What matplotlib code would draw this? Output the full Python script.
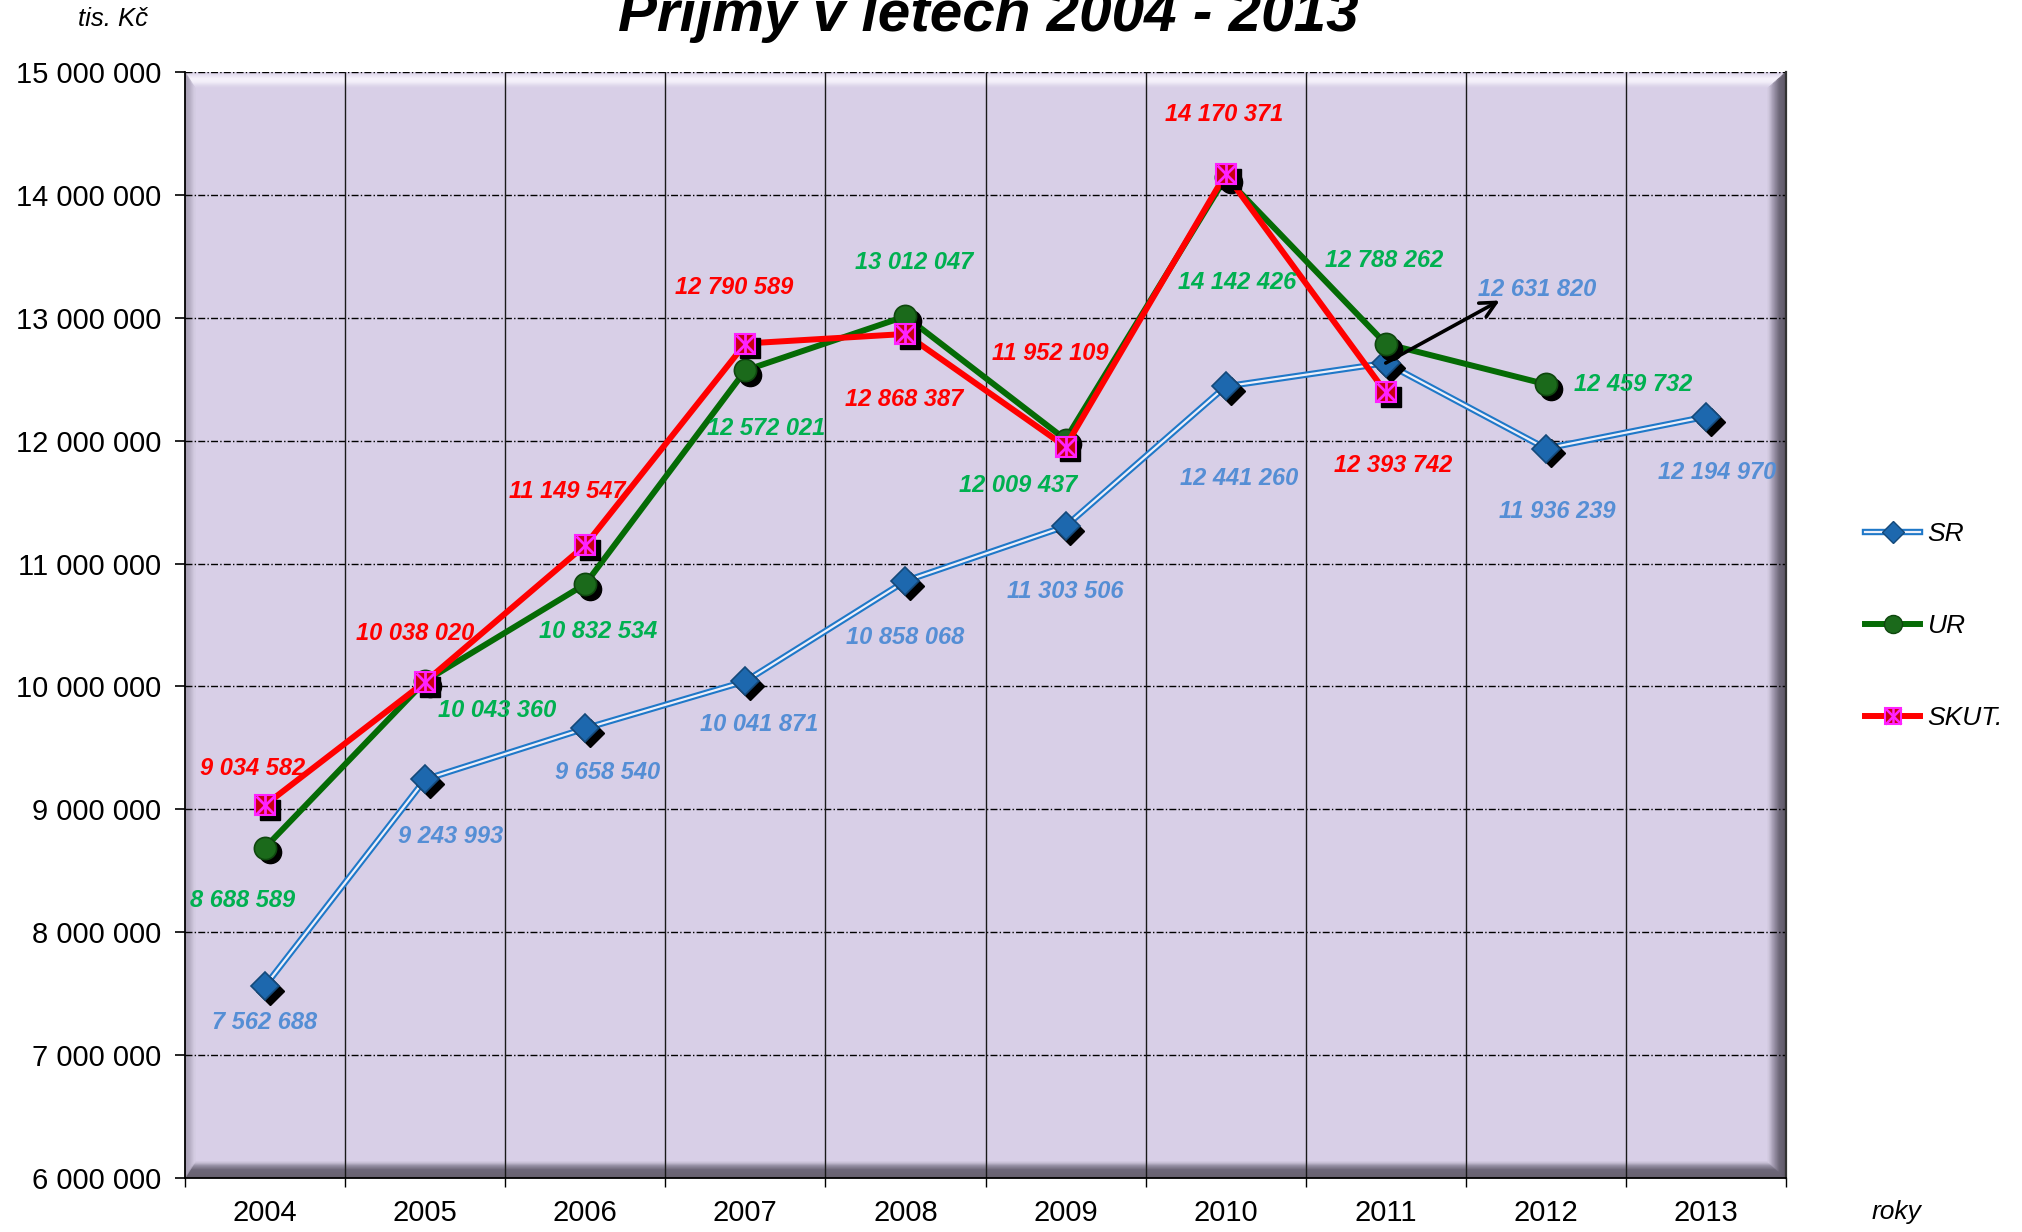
import numpy as np
import matplotlib
matplotlib.use('Agg')
import matplotlib.pyplot as plt
from matplotlib import transforms
from matplotlib.patches import Polygon
from matplotlib.lines import Line2D
from matplotlib.colors import LinearSegmentedColormap
from matplotlib.legend_handler import HandlerTuple

plt.rcParams['font.family'] = ['Liberation Sans', 'DejaVu Sans']

# ---------------- data ----------------
years = ['2004', '2005', '2006', '2007', '2008', '2009', '2010', '2011', '2012', '2013']
sr = [7562688, 9243993, 9658540, 10041871, 10858068, 11303506, 12441260, 12631820, 11936239, 12194970]
ur = [8688589, 10043360, 10832534, 12572021, 13012047, 12009437, 14142426, 12788262, 12459732]
skut = [9034582, 10038020, 11149547, 12790589, 12868387, 11952109, 14170371, 12393742]
y_ticks = [6000000, 7000000, 8000000, 9000000, 10000000, 11000000, 12000000, 13000000, 14000000, 15000000]
series_names = ['SR', 'UR', 'SKUT.']

# label offsets (points)
sr_off = [(0, -26), (18, -41), (16, -32), (10, -31), (0, -41), (0, -47), (10, -66), (109, 53), (8, -45), (8, -40)]
ur_off = [(-16, -38), (52, -21), (9, -34), (15, -42), (6, 39), (-34, -33), (8, -76), (-1, 60), (63, 0)]
sk_off = [(-9, 26), (-7, 35), (-13, 39), (-8, 40), (-1, -47), (-11, 67), (-1, 43), (5, -53)]

C_SR, C_SR_IN, C_SR_M = '#1F78C8', '#EEF0FA', '#1D68AE'
C_UR, C_UR_M = '#056B05', '#1B6A1B'
C_SK, C_SK_M, C_MAG = '#FF0000', '#C8000E', '#FF22FF'
LBL_SR, LBL_UR, LBL_SK = '#558ED5', '#00B050', '#FF0000'


def fmt(v):
    return f"{v:,}".replace(",", " ")


fig = plt.figure(figsize=(20.22, 12.32), dpi=100)
W_PX, H_PX = 2022, 1232
ax = fig.add_axes([185 / W_PX, 1 - 1178 / H_PX, (1786 - 185) / W_PX, (1178 - 72) / H_PX])
ax.set_facecolor('#D8CFE7')


# ---------------- bevelled plot area ----------------
def bevel(ax, L, R, B, T, cmaps, n=30):
    bb = ax.get_position()
    W = bb.width * W_PX
    H = bb.height * H_PX
    ts = np.linspace(0, 1, n + 1)
    for i in range(n):
        ta, tb = ts[i], ts[i + 1]
        tm = 0.5 * (ta + tb)
        x0a, x1a, y0a, y1a = L * ta / W, 1 - R * ta / W, B * ta / H, 1 - T * ta / H
        x0b, x1b, y0b, y1b = L * tb / W, 1 - R * tb / W, B * tb / H, 1 - T * tb / H
        polys = {
            'bottom': [(x0a, y0a), (x1a, y0a), (x1b, y0b), (x0b, y0b)],
            'top': [(x0a, y1a), (x1a, y1a), (x1b, y1b), (x0b, y1b)],
            'left': [(x0a, y0a), (x0a, y1a), (x0b, y1b), (x0b, y0b)],
            'right': [(x1a, y0a), (x1a, y1a), (x1b, y1b), (x1b, y0b)],
        }
        for side, pts in polys.items():
            c = cmaps[side](tm)
            ax.add_patch(Polygon(pts, closed=True, transform=ax.transAxes, facecolor=c,
                                 edgecolor=c, lw=0.6, zorder=0.5))


cmaps = {
    'bottom': LinearSegmentedColormap.from_list('b', [(0, '#67616F'), (0.55, '#6E6879'), (0.8, '#9690A4'), (1, '#CCC4DA')]),
    'right': LinearSegmentedColormap.from_list('r', [(0, '#5C5666'), (0.4, '#6E6879'), (0.75, '#A49CB2'), (1, '#D2CAE0')]),
    'left': LinearSegmentedColormap.from_list('l', [(0, '#A49CB0'), (0.5, '#B4ACC2'), (1, '#D4CCE2')]),
    'top': LinearSegmentedColormap.from_list('t', [(0, '#D8CFE7'), (0.45, '#F7F3FC'), (0.65, '#F2EEF9'), (1, '#D8CFE7')]),
}
bevel(ax, 10, 18, 16, 16, cmaps)

# ---------------- grid ----------------
for v in y_ticks[1:]:
    ax.axhline(v, color='black', lw=1.0, dashes=(5, 1.6, 1, 1.6), zorder=1.5)
for b in np.arange(0.5, len(years) - 1, 1.0):
    ax.axvline(b, color='#1a1a1a', lw=1.0, zorder=1.5)

# ---------------- series ----------------
shadow = transforms.offset_copy(ax.transData, fig=fig, x=3.5, y=-3.5, units='points')

x_sr = np.arange(len(sr))
ax.plot(x_sr, sr, color=C_SR, lw=4.6, zorder=3, solid_joinstyle='round')
ax.plot(x_sr, sr, color=C_SR_IN, lw=1.6, zorder=3.05, solid_joinstyle='round')
ax.plot(x_sr, sr, ls='none', marker='D', ms=14, color='black', transform=shadow, zorder=3.1)
ax.plot(x_sr, sr, ls='none', marker='D', ms=14, mfc=C_SR_M, mec='#14497A', mew=1.2, zorder=3.2)

x_ur = np.arange(len(ur))
ax.plot(x_ur, ur, color=C_UR, lw=4.3, zorder=4, solid_joinstyle='round')
ax.plot(x_ur, ur, ls='none', marker='o', ms=16, color='black', transform=shadow, zorder=4.1)
ax.plot(x_ur, ur, ls='none', marker='o', ms=16, mfc=C_UR_M, mec='#0E470E', mew=1.2, zorder=4.2)

x_sk = np.arange(len(skut))
ax.plot(x_sk, skut, color=C_SK, lw=4.3, zorder=5, solid_joinstyle='round')
ax.plot(x_sk, skut, ls='none', marker='s', ms=14, color='black', transform=shadow, zorder=5.1)
ax.plot(x_sk, skut, ls='none', marker='s', ms=14, mfc=C_SK_M, mec=C_MAG, mew=1.5, zorder=5.2)
ax.plot(x_sk, skut, ls='none', marker='x', ms=13, mec=C_MAG, mew=2.0, zorder=5.3)
ax.plot(x_sk, skut, ls='none', marker='|', ms=14, mec=C_MAG, mew=2.0, zorder=5.3)

# ---------------- data labels ----------------
lbl_kw = dict(textcoords='offset points', ha='center', va='center', fontsize=17,
              fontweight='bold', fontstyle='italic', zorder=7)
for i, v in enumerate(sr):
    ax.annotate(fmt(v), xy=(i, v), xytext=sr_off[i], color=LBL_SR, **lbl_kw)
for i, v in enumerate(ur):
    ax.annotate(fmt(v), xy=(i, v), xytext=ur_off[i], color=LBL_UR, **lbl_kw)
for i, v in enumerate(skut):
    ax.annotate(fmt(v), xy=(i, v), xytext=sk_off[i], color=LBL_SK, **lbl_kw)

# arrow pointing to the SR 2011 label
ax.annotate('', xy=(7, sr[7]), xytext=(82, 45), textcoords='offset points',
            arrowprops=dict(arrowstyle='<-', color='black', lw=2.6, mutation_scale=28,
                            shrinkA=0, shrinkB=0), zorder=7)

# ---------------- axes ----------------
ax.set_xlim(-0.5, len(years) - 0.5)
ax.set_ylim(y_ticks[0], y_ticks[-1])
ax.set_yticks(y_ticks)
ax.set_yticklabels([fmt(v) for v in y_ticks], fontsize=21)
ax.tick_params(axis='y', direction='out', length=7, width=1.2, pad=10, colors='black')

ax.set_xticks(np.arange(-0.5, len(years), 1.0))
ax.set_xticklabels([])
ax.tick_params(axis='x', which='major', direction='out', length=6.5, width=1.0)
ax.set_xticks(np.arange(len(years)), minor=True)
ax.set_xticklabels(years, minor=True, fontsize=21)
ax.tick_params(axis='x', which='minor', length=0, pad=15)

ax.spines['top'].set_visible(False)
ax.spines['left'].set_linewidth(1.3)
ax.spines['bottom'].set_linewidth(1.3)
ax.spines['right'].set_color('#333333')
ax.spines['right'].set_linewidth(1.6)
for s in ax.spines.values():
    s.set_zorder(2)

# ---------------- texts ----------------
fig.text(988 / W_PX, 1 - 31 / H_PX, 'Příjmy v letech 2004 - 2013', ha='center', va='baseline',
         fontsize=42, fontweight='bold', fontstyle='italic')
fig.text(113 / W_PX, 1 - 19 / H_PX, 'tis. Kč', ha='center', va='center', fontsize=18.5, fontstyle='italic')
fig.text(1896 / W_PX, 1 - 1212 / H_PX, 'roky', ha='center', va='center', fontsize=19, fontstyle='italic')

# ---------------- legend ----------------
h_sr = (Line2D([], [], color=C_SR, lw=4.6),
        Line2D([], [], color=C_SR_IN, lw=1.6, marker='D', ms=11, mfc=C_SR_M, mec='#14497A'))
h_ur = Line2D([], [], color=C_UR, lw=4.3, marker='o', ms=13, mfc=C_UR_M, mec='#0E470E')
h_sk = (Line2D([], [], color=C_SK, lw=4.3, marker='s', ms=12, mfc=C_SK_M, mec=C_MAG, mew=1.5),
        Line2D([], [], ls='none', marker='x', ms=11, mec=C_MAG, mew=1.8),
        Line2D([], [], ls='none', marker='|', ms=12, mec=C_MAG, mew=1.8))
leg = fig.legend([h_sr, h_ur, h_sk], series_names, loc='center left',
                 bbox_to_anchor=(1865 / W_PX, 1 - 626 / H_PX), frameon=False,
                 prop=dict(size=19, style='italic'), numpoints=1,
                 handlelength=2.1, handletextpad=0.25, labelspacing=2.58,
                 borderpad=0, borderaxespad=0,
                 handler_map={tuple: HandlerTuple(ndivide=1)})

fig.savefig('out.png', dpi=100)
